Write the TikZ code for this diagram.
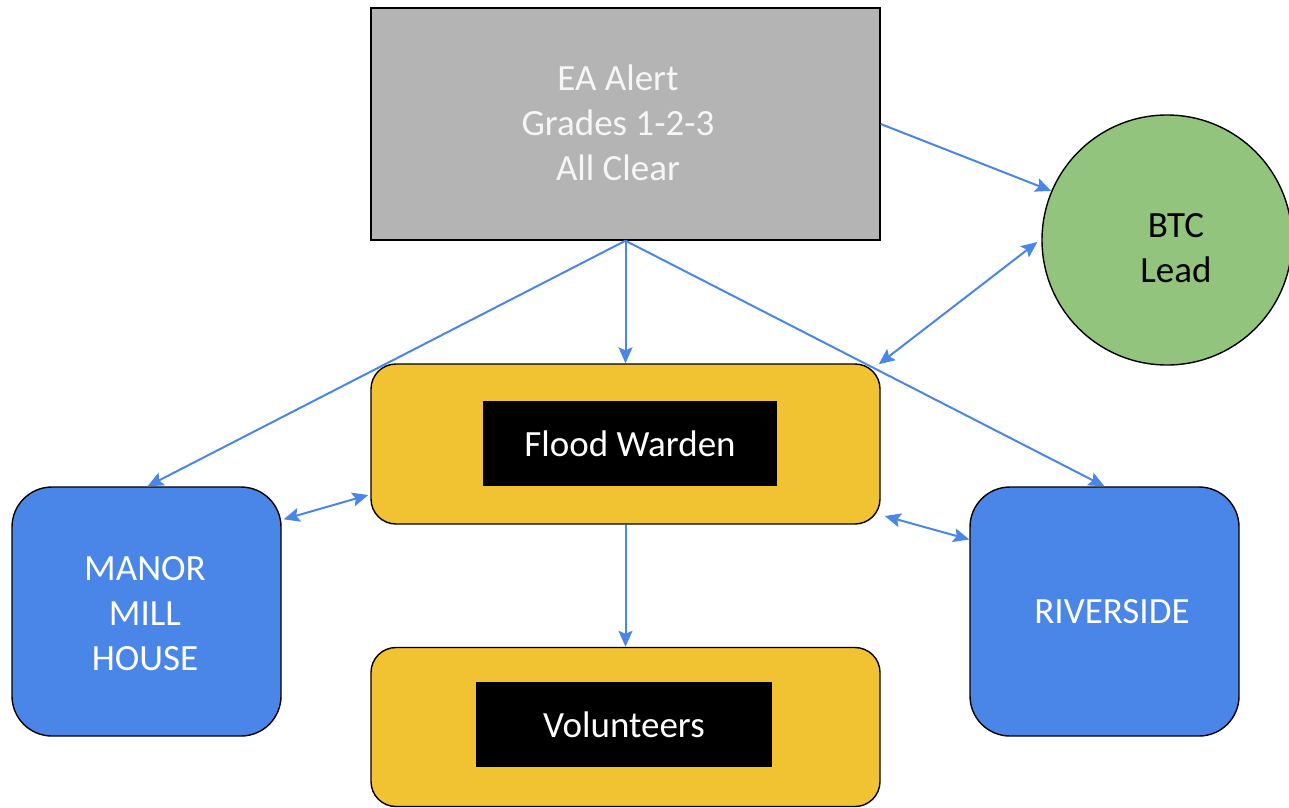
\documentclass[tikz,border=0pt]{standalone}
\usepackage{fontspec}
\setmainfont{Carlito}
\usetikzlibrary{arrows.meta,calc}
\definecolor{eagray}{HTML}{B4B4B4}
\definecolor{btcgreen}{HTML}{93C47D}
\definecolor{warnyellow}{HTML}{F1C232}
\definecolor{siteblue}{HTML}{4A86E8}
\definecolor{arrowblue}{HTML}{4A86E8}
\definecolor{lighttext}{HTML}{F6F6F6}
\tikzset{
  box/.style={draw=black, line width=1.4pt, inner sep=0pt, align=center},
  tag/.style={fill=black, inner sep=0pt, text=white, font=\fontsize{37}{45}\selectfont},
  txt/.style={font=\fontsize{37}{45}\selectfont, align=center, inner sep=0pt},
  conn/.style={draw=arrowblue, line width=2pt, -{Stealth[length=16pt,width=14pt,inset=3pt]}},
  dconn/.style={draw=arrowblue, line width=2pt, {Stealth[length=16pt,width=14pt,inset=3pt]}-{Stealth[length=16pt,width=14pt,inset=3pt]}}
}
\begin{document}
\begin{tikzpicture}[x=1pt,y=-1pt]
\useasboundingbox (0,0) rectangle (1289,807);
% nodes
\node[box, fill=eagray, minimum width=509pt, minimum height=232pt] (ea) at (625.5,124) {};
\node[txt, text=lighttext] (eatext) at (618,123) {EA Alert\\Grades 1-2-3\\All Clear};
\node[box, circle, fill=btcgreen, minimum size=250pt] (btc) at (1167,240) {};
\node[txt, text=black] (btctext) at (1176,248) {BTC\\Lead};
\node[box, fill=warnyellow, rounded corners=25pt, minimum width=509pt, minimum height=160pt] (fw) at (625.5,444) {};
\node[tag, minimum width=294pt, minimum height=85pt] (fwtag) at (630,443.5) {Flood Warden};
\node[box, fill=warnyellow, rounded corners=25pt, minimum width=509pt, minimum height=159pt] (vol) at (625.5,727) {};
\node[tag, minimum width=296pt, minimum height=85pt] (voltag) at (624,724.5) {Volunteers};
\node[box, fill=siteblue, rounded corners=40pt, minimum width=269pt, minimum height=249pt] (manor) at (146.5,611.5) {};
\node[txt, text=white] (manortext) at (145,614) {MANOR\\MILL\\HOUSE};
\node[box, fill=siteblue, rounded corners=40pt, minimum width=269pt, minimum height=249pt] (river) at (1104.5,611.5) {};
\node[txt, text=white] (rivertext) at (1112,612) {RIVERSIDE};
% connectors
\draw[conn] (ea.east) -- (btc.157);
\draw[conn] (ea.south) -- (fw.north);
\draw[conn] (ea.south) -- ($(manor.north)+(1,0)$);
\draw[conn] (ea.south) -- (river.north);
\draw[dconn] ($(fw.north east)+(-2,1)$) -- ($(btc.west)+(-4,2)$);
\draw[dconn] ($(manor.north east)+(2,33)$) -- ($(fw.west)+(-2,51)$);
\draw[dconn] ($(fw.east)+(4,72)$) -- ($(river.west)+(0,-72)$);
\draw[conn] (fw.south) -- (vol.north);
\end{tikzpicture}
\end{document}
